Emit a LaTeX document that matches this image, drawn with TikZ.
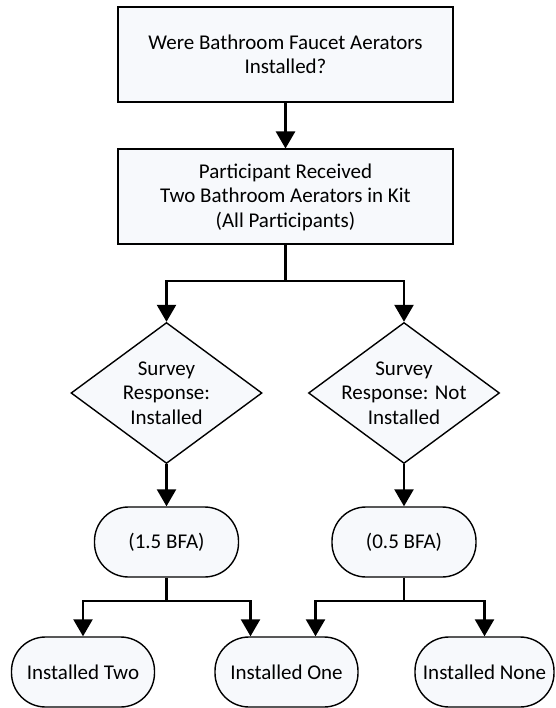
\documentclass[tikz,border=0pt]{standalone}
\usepackage{fontspec}
\setmainfont{Carlito}
\usetikzlibrary{shapes.geometric,arrows.meta}
\definecolor{paleblue}{RGB}{247,249,252}

\begin{document}
\begin{tikzpicture}[x=1pt,y=-1pt,
  font=\fontsize{21}{24.5}\selectfont,
  box/.style={draw, fill=paleblue, line width=2pt, minimum width=335pt, minimum height=95pt, align=center},
  dia/.style={draw, fill=paleblue, diamond, line width=1.4pt, minimum width=191pt, minimum height=141pt, inner sep=0pt},
  pill/.style={draw, fill=paleblue, rounded corners=34pt, line width=1.4pt, minimum height=70pt, inner xsep=0pt},
  link/.style={line width=2.5pt},
  arr/.style={link, -{Triangle[length=17pt,width=19pt]}}]

  % Fix the page to the picture size
  \useasboundingbox (0,0) rectangle (555,708);

  % Question and kit boxes
  \node[box] (question) at (285.5,54.5) {Were Bathroom Faucet Aerators\\Installed?};
  \node[box] (kit) at (285.5,197) {Participant Received\\Two Bathroom Aerators in Kit\\(All Participants)};

  % Survey decisions
  \node[dia] (yes) at (166.5,393) {};
  \node[align=center] (yestext) at (yes) {Survey\\Response:\\Installed};
  \node[dia] (no) at (404,393) {};
  \node[align=center] (notext) at (no) {Survey\\Response: Not\\Installed};

  % Assumed faucet aerators
  \node[pill, minimum width=144pt] (high) at (166.5,542) {(1.5 BFA)};
  \node[pill, minimum width=144pt] (low) at (404,542) {(0.5 BFA)};

  % Outcomes
  \node[pill, minimum width=143pt] (two) at (83,672) {Installed Two};
  \node[pill, minimum width=143pt] (one) at (286.5,672) {Installed One};
  \node[pill, minimum width=139pt] (none) at (484.5,672) {Installed None};

  % Branch points
  \coordinate (fork1) at (285.5,281);
  \coordinate (fork2) at (166.5,601);
  \coordinate (fork3) at (404,601);

  % Connectors
  \draw[arr] (question.south) -- (kit.north);
  \draw[link] (kit.south) -- (fork1);
  \draw[arr] (fork1) -| (yes.north);
  \draw[arr] (fork1) -| (no.north);

  \draw[arr] (yes.south) -- (high.north);
  \draw[arr] (no.south) -- (low.north);

  \draw[link] (high.south) -- (fork2);
  \draw[arr] (fork2) -| (two.north);
  \draw[arr] (fork2) -| ([xshift=-36pt]one.north);

  \draw[link] (low.south) -- (fork3);
  \draw[arr] (fork3) -| ([xshift=29pt]one.north);
  \draw[arr] (fork3) -| (none.north);

\end{tikzpicture}
\end{document}
